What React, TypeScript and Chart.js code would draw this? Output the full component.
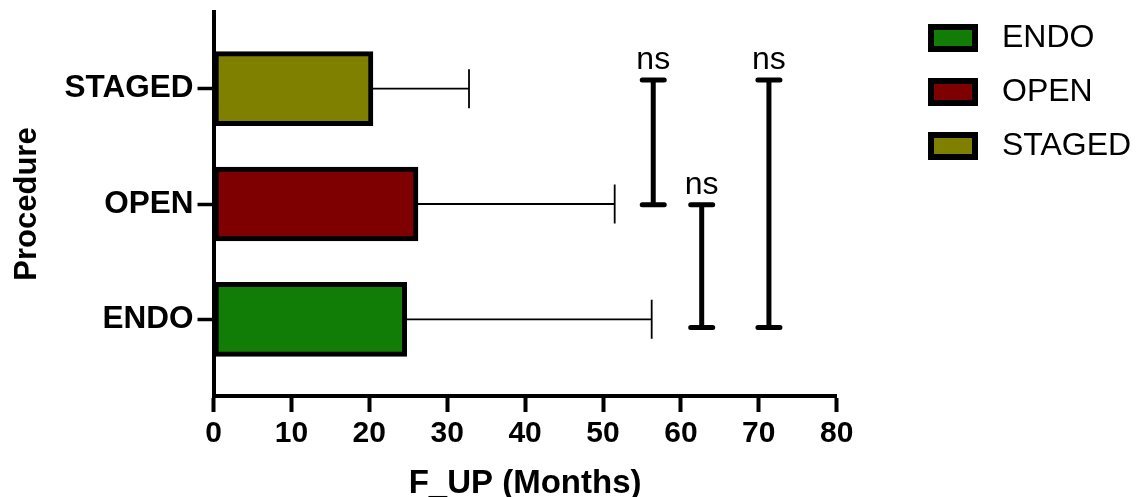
import { useEffect, useRef } from 'react';
import { Chart, registerables } from 'chart.js';

Chart.register(...registerables);

// Follow-up time by procedure (mean with SD whisker), plus pairwise comparisons
const PROCEDURES = ['ENDO', 'OPEN', 'STAGED'];
const MEAN_FUP = [24.8, 26.25, 20.47];
const MEAN_PLUS_SD = [56.25, 51.5, 32.8];
const BAR_COLORS = ['#117c06', '#7e0000', '#7f7f00'];
const X_TICK_STEP = 10;
const X_MAX = 80;

// Comparison brackets: x position (months), span in category index units, label
const SIG_X = [56.45, 62.67, 71.3];
const SIG_FROM = [2.075, 0.994, 2.075];
const SIG_TO = [0.994, -0.07, -0.07];
const SIG_LABELS = ['ns', 'ns', 'ns'];

const FONT = '"Liberation Sans", Arial, Helvetica, sans-serif';

const errorBars = {
  id: 'errorBars',
  afterDatasetsDraw(chart: any) {
    const { ctx, scales } = chart;
    const meta = chart.getDatasetMeta(0);
    ctx.save();
    ctx.strokeStyle = '#000';
    ctx.lineWidth = 1.8;
    meta.data.forEach((bar: any, i: number) => {
      const x0 = bar.x;
      const x1 = scales.x.getPixelForValue(MEAN_PLUS_SD[i]);
      const y = bar.y;
      ctx.beginPath();
      ctx.moveTo(x0, y);
      ctx.lineTo(x1, y);
      ctx.moveTo(x1, y - 19.5);
      ctx.lineTo(x1, y + 19.5);
      ctx.stroke();
    });
    ctx.restore();
  },
};

const sigBrackets = {
  id: 'sigBrackets',
  afterDatasetsDraw(chart: any) {
    const { ctx, scales } = chart;
    ctx.save();
    ctx.strokeStyle = '#000';
    ctx.fillStyle = '#000';
    ctx.lineWidth = 5;
    ctx.lineCap = 'round';
    ctx.font = `32px ${FONT}`;
    ctx.textAlign = 'center';
    ctx.textBaseline = 'alphabetic';
    SIG_X.forEach((v, k) => {
      const x = scales.x.getPixelForValue(v);
      const yTop = scales.y.getPixelForValue(SIG_FROM[k]);
      const yBot = scales.y.getPixelForValue(SIG_TO[k]);
      ctx.beginPath();
      ctx.moveTo(x, yTop);
      ctx.lineTo(x, yBot);
      ctx.moveTo(x - 11, yTop);
      ctx.lineTo(x + 11, yTop);
      ctx.moveTo(x - 11, yBot);
      ctx.lineTo(x + 11, yBot);
      ctx.stroke();
      ctx.fillText(SIG_LABELS[k], x, yTop - 11);
    });
    ctx.restore();
  },
};

const boxLegend = {
  id: 'boxLegend',
  afterDraw(chart: any) {
    const { ctx } = chart;
    ctx.save();
    ctx.font = `32px ${FONT}`;
    ctx.textBaseline = 'middle';
    ctx.textAlign = 'left';
    PROCEDURES.forEach((name, i) => {
      const yc = 38 + i * 54;
      ctx.fillStyle = '#000';
      ctx.fillRect(928, yc - 14, 50, 28);
      ctx.fillStyle = BAR_COLORS[i];
      ctx.fillRect(934, yc - 8, 38, 16);
      ctx.fillStyle = '#000';
      ctx.fillText(name, 1002, yc);
    });
    ctx.restore();
  },
};

export default function App() {
  const canvasRef = useRef<HTMLCanvasElement>(null);

  useEffect(() => {
    if (!canvasRef.current) return;
    const chart = new Chart(canvasRef.current, {
      type: 'bar',
      data: {
        datasets: [
          {
            label: 'F_UP',
            data: PROCEDURES.map((_, i) => ({ x: MEAN_FUP[i], y: i })),
            backgroundColor: BAR_COLORS,
            borderColor: '#000',
            borderWidth: 5,
            borderSkipped: false,
            barThickness: 74,
          },
        ],
      },
      options: {
        indexAxis: 'y',
        responsive: false,
        animation: false,
        layout: { padding: { top: 12, right: 301.3, left: 0, bottom: 0 } },
        plugins: { legend: { display: false }, tooltip: { enabled: false } },
        scales: {
          x: {
            type: 'linear',
            position: 'bottom',
            min: 0,
            max: X_MAX,
            offset: false,
            ticks: {
              stepSize: X_TICK_STEP,
              color: '#000',
              padding: 4,
              font: { family: FONT, size: 30, weight: 'bold' },
            },
            grid: {
              offset: false,
              drawOnChartArea: false,
              drawTicks: true,
              tickLength: 16,
              tickWidth: 4,
              tickColor: '#000',
            },
            border: { display: true, color: '#000', width: 4 },
            title: {
              display: true,
              text: 'F_UP (Months)',
              color: '#000',
              padding: { top: 0, bottom: -3 },
              font: { family: FONT, size: 33, weight: 'bold', lineHeight: 1 },
            },
            afterFit: (s: any) => {
              s.height = 101;
            },
          },
          y: {
            type: 'linear',
            position: 'left',
            min: -0.665,
            max: 2.665,
            offset: false,
            afterBuildTicks: (s: any) => {
              s.ticks = PROCEDURES.map((_, i) => ({ value: i }));
            },
            ticks: {
              color: '#000',
              padding: 4,
              font: { family: FONT, size: 31.5, weight: 'bold' },
              callback: (v: any) => PROCEDURES[Math.round(Number(v))] ?? '',
            },
            grid: {
              offset: false,
              drawOnChartArea: false,
              drawTicks: true,
              tickLength: 16,
              tickWidth: 3.5,
              tickColor: '#000',
            },
            border: { display: true, color: '#000', width: 4 },
            title: {
              display: true,
              text: 'Procedure',
              color: '#000',
              padding: { top: 12, bottom: 0 },
              font: { family: FONT, size: 31, weight: 'bold', lineHeight: 1 },
            },
            afterFit: (s: any) => {
              s.width = 213.5;
              s.paddingTop = 0;
              s.paddingBottom = 0;
            },
          },
        },
      },
      plugins: [errorBars, sigBrackets, boxLegend],
    } as any);
    return () => chart.destroy();
  }, []);

  return (
    <div
      style={{
        position: 'fixed',
        left: 0,
        top: 0,
        width: 1138,
        height: 497,
        background: '#fff',
      }}
    >
      <canvas ref={canvasRef} width={1138} height={497} style={{ display: 'block' }} />
    </div>
  );
}
